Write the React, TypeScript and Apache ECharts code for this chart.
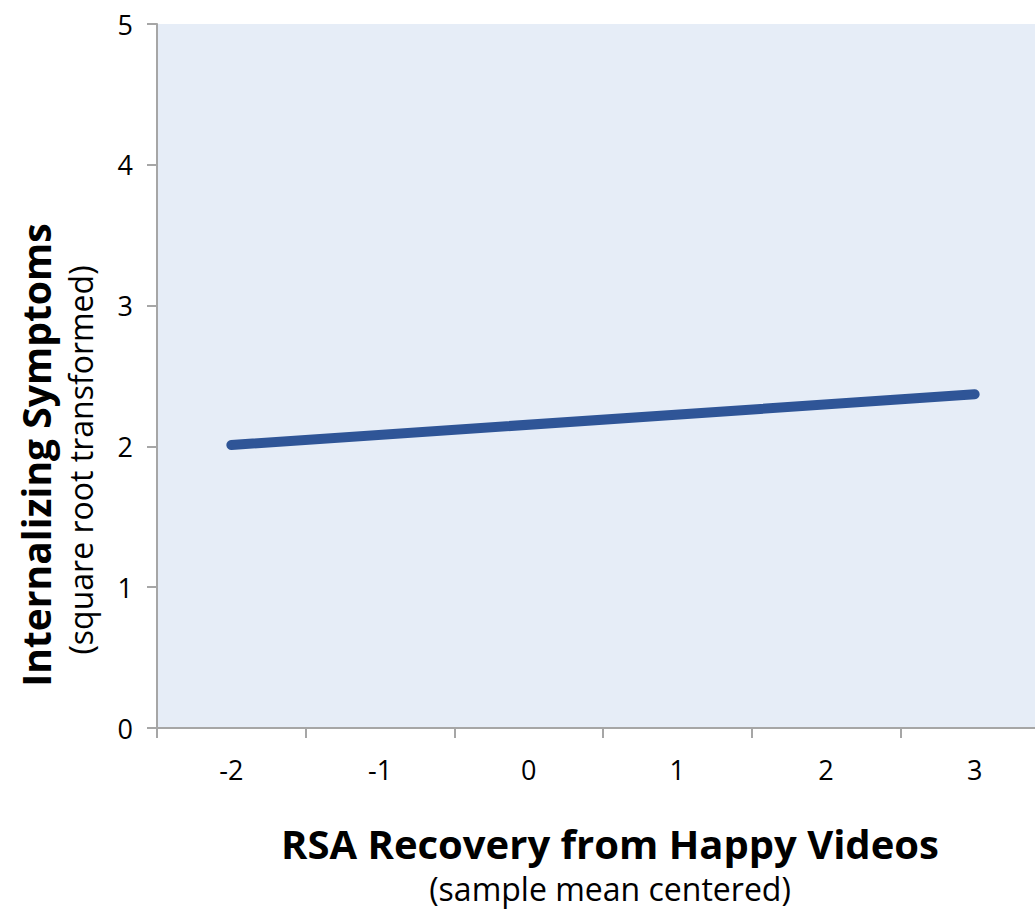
import React, { useEffect, useRef } from "react";
import * as echarts from "echarts";

const categories = ["-2", "-1", "0", "1", "2", "3"];
const lineValues: (number | null)[] = [2.01, null, null, null, null, 2.37];
const yTicks = [0, 1, 2, 3, 4, 5];
const xTitle = "RSA Recovery from Happy Videos";
const xSub = "(sample mean centered)";
const yTitle = "Internalizing Symptoms";
const ySub = "(square root transformed)";

const FONT = "'Open Sans', 'Noto Sans', sans-serif";

export default function App() {
  const ref = useRef<HTMLDivElement>(null);
  useEffect(() => {
    if (!ref.current) return;
    const chart = echarts.init(ref.current, undefined, { renderer: "svg" });
    chart.setOption({
      animation: false,
      backgroundColor: "#ffffff",
      grid: { left: 157, right: 0, top: 24, bottom: 181, backgroundColor: "#E6EDF7", show: true, borderWidth: 0 },
      xAxis: {
        type: "category",
        data: categories,
        boundaryGap: true,
        axisLine: { lineStyle: { color: "#A6A6A6", width: 2 } },
        axisTick: { show: true, length: 10, lineStyle: { color: "#A6A6A6", width: 2 } },
        axisLabel: { fontSize: 27, color: "#000", fontFamily: FONT, margin: 28 },
        splitLine: { show: false },
      },
      yAxis: {
        type: "value",
        min: yTicks[0],
        max: yTicks[yTicks.length - 1],
        interval: 1,
        axisLine: { show: true, lineStyle: { color: "#A6A6A6", width: 2 } },
        axisTick: { show: true, length: 10, lineStyle: { color: "#A6A6A6", width: 2 } },
        axisLabel: { fontSize: 27, color: "#000", fontFamily: FONT, margin: 24 },
        splitLine: { show: false },
      },
      series: [
        {
          type: "line",
          data: lineValues,
          connectNulls: true,
          symbol: "none",
          lineStyle: { color: "#2F5597", width: 10, cap: "round" },
        },
      ],
      graphic: [
        {
          type: "text",
          x: 610,
          y: 843,
          style: { text: xTitle, font: `bold 40px ${FONT}`, fill: "#000", align: "center", verticalAlign: "middle" },
        },
        {
          type: "text",
          x: 610,
          y: 888,
          style: { text: xSub, font: `32px ${FONT}`, fill: "#000", align: "center", verticalAlign: "middle" },
        },
        {
          type: "text",
          x: 35,
          y: 455,
          rotation: Math.PI / 2,
          style: { text: yTitle, font: `bold 39px ${FONT}`, fill: "#000", align: "center", verticalAlign: "middle" },
        },
        {
          type: "text",
          x: 80,
          y: 460,
          rotation: Math.PI / 2,
          style: { text: ySub, font: `32px ${FONT}`, fill: "#000", align: "center", verticalAlign: "middle" },
        },
      ],
    });
    return () => chart.dispose();
  }, []);
  return (
    <div style={{ position: "absolute", left: 0, top: 0, width: 1035, height: 909, overflow: "hidden" }}>
      <div ref={ref} style={{ position: "absolute", left: 0, top: 0, width: 1049, height: 909 }} />
    </div>
  );
}
